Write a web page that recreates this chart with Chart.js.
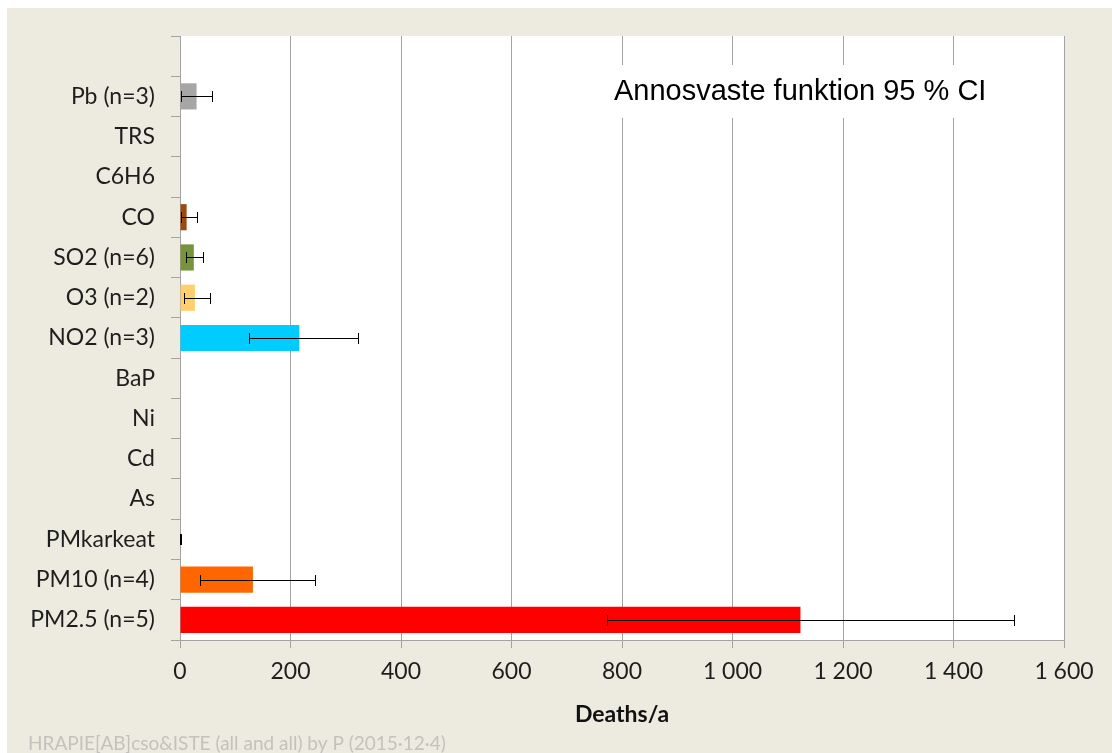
<!DOCTYPE html>
<html>
<head>
<meta charset="utf-8">
<script src="https://cdn.jsdelivr.net/npm/chart.js@4"></script>
<style>
  html, body { margin: 0; padding: 0; background: #ffffff; }
  #wrap { width: 1112px; height: 753px; position: relative; }
  canvas { display: block; }
</style>
</head>
<body>
<div id="wrap"><canvas id="c" width="1112" height="753"></canvas></div>
<script>
// Pollutant categories, top to bottom (first row left empty)
const categories = ['', 'Pb (n=3)', 'TRS', 'C6H6', 'CO', 'SO2 (n=6)', 'O3 (n=2)', 'NO2 (n=3)',
  'BaP', 'Ni', 'Cd', 'As', 'PMkarkeat', 'PM10 (n=4)', 'PM2.5 (n=5)'];
// Estimated deaths per year
const deaths = [null, 30, null, null, 12, 25, 27, 216, null, null, null, null, 1, 132, 1123];
// 95 % confidence interval bounds
const ciLow  = [null, 1, null, null, 1, 10, 8, 124, null, null, null, null, 0.5, 36, 772];
const ciHigh = [null, 58, null, null, 31, 42, 54, 322, null, null, null, null, 1.5, 244, 1510];
// Bar fill per pollutant
const barColors = ['#000000', '#A6A6A6', '#000000', '#000000', '#9C4A0E', '#77933C', '#FFCF6E',
  '#00CCFF', '#000000', '#000000', '#000000', '#000000', '#7F7F7F', '#FF6600', '#FF0000'];
const xTicks = [0, 200, 400, 600, 800, 1000, 1200, 1400, 1600];

const BG = '#EDEBE0';
const GRID = '#A3A3A3';
const LABEL_FONT = 'Lato, "Open Sans", sans-serif';

// Background panel, white plot area and footer line
const backdrop = {
  id: 'backdrop',
  beforeDraw(chart) {
    const { ctx, chartArea: a } = chart;
    ctx.save();
    ctx.fillStyle = '#ffffff';
    ctx.fillRect(0, 0, chart.width, chart.height);
    ctx.fillStyle = BG;
    ctx.fillRect(7, 8, chart.width - 7, chart.height - 8);
    ctx.fillStyle = '#ffffff';
    ctx.fillRect(a.left, a.top, a.right - a.left, a.bottom - a.top);
    ctx.restore();
  },
  afterDraw(chart) {
    const { ctx } = chart;
    ctx.save();
    ctx.fillStyle = '#C4C2BC';
    ctx.font = '19px ' + LABEL_FONT;
    ctx.textBaseline = 'alphabetic';
    ctx.textAlign = 'left';
    ctx.fillText('HRAPIE[AB]cso&ISTE (all and all) by P (2015\u00B712\u00B74)', 28, 750);
    ctx.restore();
  }
};

// Annotation text box drawn over the grid
const noteBox = {
  id: 'noteBox',
  beforeDatasetsDraw(chart) {
    const { ctx } = chart;
    ctx.save();
    ctx.fillStyle = '#ffffff';
    ctx.fillRect(603, 65, 400, 53);
    ctx.fillStyle = '#000000';
    ctx.font = '29px "Liberation Sans", Arial, sans-serif';
    ctx.textBaseline = 'middle';
    ctx.textAlign = 'left';
    ctx.fillText('Annosvaste funktion 95 % CI', 614, 92);
    ctx.restore();
  }
};

// Confidence interval whiskers
const errorBars = {
  id: 'errorBars',
  afterDatasetsDraw(chart) {
    const { ctx, scales: { x, y } } = chart;
    ctx.save();
    ctx.strokeStyle = '#000000';
    ctx.lineWidth = 1;
    for (let i = 0; i < categories.length; i++) {
      if (ciLow[i] == null || ciHigh[i] == null) continue;
      const yc = Math.round(y.getPixelForValue(i)) + 0.5;
      const x0 = Math.round(x.getPixelForValue(ciLow[i])) + 0.5;
      const x1 = Math.round(x.getPixelForValue(ciHigh[i])) + 0.5;
      const cap = 5.5;
      ctx.beginPath();
      ctx.moveTo(x0, yc); ctx.lineTo(x1, yc);
      ctx.moveTo(x0, yc - cap); ctx.lineTo(x0, yc + cap);
      ctx.moveTo(x1, yc - cap); ctx.lineTo(x1, yc + cap);
      ctx.stroke();
    }
    ctx.restore();
  }
};

new Chart(document.getElementById('c'), {
  type: 'bar',
  data: {
    labels: categories,
    datasets: [{
      data: deaths,
      backgroundColor: barColors,
      borderWidth: 0,
      barPercentage: 0.65,
      categoryPercentage: 1
    }]
  },
  options: {
    indexAxis: 'y',
    responsive: false,
    animation: false,
    events: [],
    layout: { padding: { left: 0, top: 36, right: 48, bottom: 0 } },
    plugins: {
      legend: { display: false },
      tooltip: { enabled: false }
    },
    scales: {
      x: {
        type: 'linear',
        min: 0,
        max: 1600,
        afterBuildTicks(s) { s.ticks = xTicks.map(v => ({ value: v })); },
        afterFit(s) { s.height = 113; },
        grid: { color: GRID, lineWidth: 1, tickLength: 8, tickColor: GRID, drawOnChartArea: true },
        border: { display: true, color: GRID, width: 1 },
        ticks: {
          color: '#1e1e1e',
          font: { family: LABEL_FONT, size: 23 },
          padding: 10,
          maxRotation: 0,
          callback: v => String(v).replace(/\B(?=(\d{3})+(?!\d))/g, ' ')
        },
        title: {
          display: true,
          text: 'Deaths/a',
          color: '#111111',
          font: { family: LABEL_FONT, size: 23, weight: 'bold' },
          padding: { top: 0, bottom: 25 }
        }
      },
      y: {
        type: 'category',
        afterFit(s) { s.width = 180; },
        grid: { offset: true, drawOnChartArea: false, tickLength: 9, color: GRID, tickColor: GRID },
        border: { display: true, color: GRID, width: 1 },
        ticks: {
          color: '#1e1e1e',
          font: { family: LABEL_FONT, size: 23 },
          padding: 16,
          autoSkip: false
        }
      }
    }
  },
  plugins: [backdrop, noteBox, errorBars]
});
</script>
</body>
</html>
